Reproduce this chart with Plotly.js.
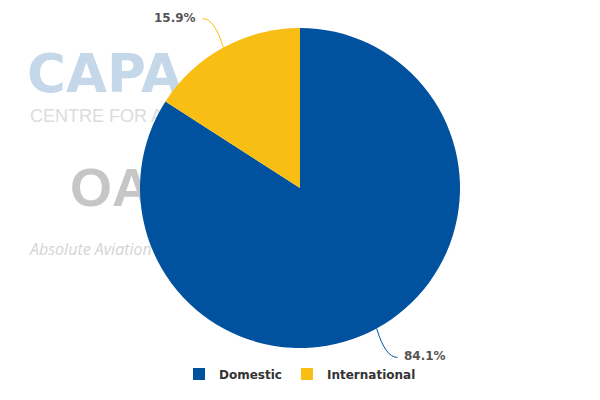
<!DOCTYPE html>
<html>
<head>
<meta charset="utf-8">
<script src="https://cdn.plot.ly/plotly-3.0.1.min.js"></script>
<style>html,body{margin:0;padding:0;background:#fff;}#chart{width:600px;height:400px;}</style>
</head>
<body>
<div id="chart"></div>
<script>
const categories = ['Domestic', 'International'];
const shares = [84.1, 15.9];
const sliceColors = ['#00529f', '#f8be13'];

const W = 600, H = 400;
const cx = 300, cy = 188, R = 160;

const pie = {
  type: 'pie',
  labels: categories,
  values: shares,
  sort: false,
  direction: 'clockwise',
  rotation: 0,
  textinfo: 'none',
  hoverinfo: 'none',
  marker: {colors: sliceColors, line: {width: 0}},
  domain: {x: [(cx - R) / W, (cx + R) / W], y: [1 - (cy + R) / H, 1 - (cy - R) / H]},
  showlegend: true
};

// faint watermark, drawn under the pie on a hidden axis
const watermark = {
  type: 'scatter', mode: 'text', showlegend: false, hoverinfo: 'skip',
  x: [27, 30, 70, 30],
  y: [79, 117, 192, 251],
  text: ['<b>CAPA</b>', 'CENTRE FOR AVIATION', '<b>OAG</b>', '<i>Absolute Aviation Intelligence</i>'],
  textposition: ['middle right', 'middle right', 'middle right', 'middle right'],
  textfont: {
    family: ['DejaVu Sans, sans-serif', 'Liberation Sans, sans-serif', 'Liberation Sans, sans-serif', 'Open Sans, sans-serif'],
    size: [53, 18, 54, 16],
    color: ['#c4d8ea', '#dcdcdc', '#c6c6c6', '#d4d4d4']
  },
  xaxis: 'x', yaxis: 'y'
};

// outside labels with curved leader lines
const total = shares.reduce((a, b) => a + b, 0);
const annotations = [];
const shapes = [];
let cum = 0;
shares.forEach((v, i) => {
  const mid = (cum + v / 2) / total * 2 * Math.PI;
  cum += v;
  const sx = Math.sin(mid), sy = -Math.cos(mid);
  const ex = cx + R * sx, ey = cy + R * sy;
  const lx = cx + 193 * sx, ly = cy + 193 * sy;
  const right = sx >= 0;
  const tx = lx + (right ? 5 : -5);
  const qx = lx + (ex - lx) * 0.45, qy = ly;
  const P = (x, y) => (x / W).toFixed(5) + ',' + (1 - y / H).toFixed(5);
  shapes.push({
    type: 'path', xref: 'paper', yref: 'paper',
    path: 'M' + P(ex, ey) + ' Q' + P(qx, qy) + ' ' + P(tx, ly),
    line: {color: sliceColors[i], width: 1}
  });
  annotations.push({
    xref: 'paper', yref: 'paper',
    x: (lx + (right ? 10 : -10)) / W, y: 1 - (ly - 1) / H,
    xanchor: right ? 'left' : 'right', yanchor: 'middle',
    text: '<b>' + v.toFixed(1) + '%</b>',
    showarrow: false,
    font: {family: 'DejaVu Sans, Verdana, sans-serif', size: 12, color: '#555555'}
  });
});

const layout = {
  width: W, height: H,
  margin: {l: 0, r: 0, t: 0, b: 0},
  paper_bgcolor: '#ffffff', plot_bgcolor: 'rgba(0,0,0,0)',
  xaxis: {range: [0, W], visible: false, fixedrange: true},
  yaxis: {range: [H, 0], visible: false, fixedrange: true},
  showlegend: true,
  legend: {
    orientation: 'h', x: 0.5, xanchor: 'center', y: 1 - 374 / H, yanchor: 'middle',
    font: {family: 'DejaVu Sans, Verdana, sans-serif', size: 12, color: '#333333', weight: 'bold'},
    itemwidth: 30, tracegroupgap: 0
  },
  annotations: annotations,
  shapes: shapes
};

Plotly.newPlot('chart', [watermark, pie], layout, {displayModeBar: false, staticPlot: true});
</script>
</body>
</html>
